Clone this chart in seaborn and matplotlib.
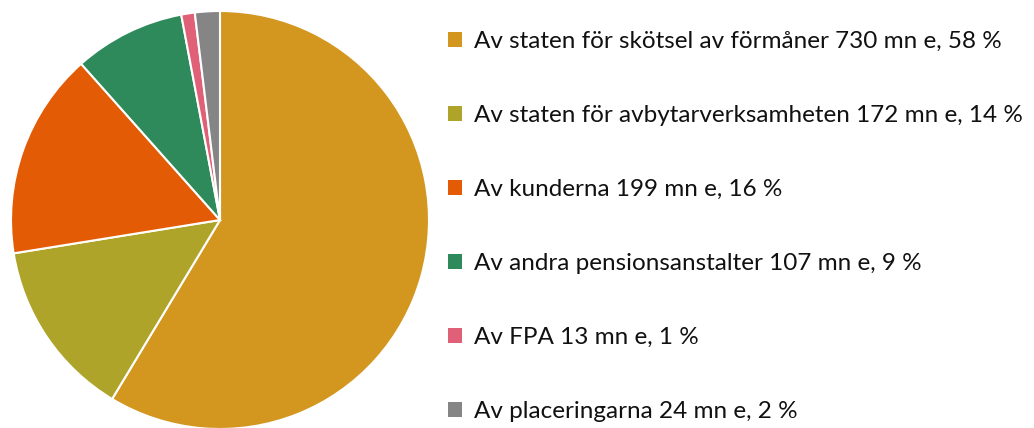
import numpy as np
import pandas as pd
import matplotlib.pyplot as plt
import seaborn as sns
from matplotlib.patches import Patch

labels = ["Av staten för skötsel av förmåner 730 mn e, 58 %",
          "Av staten för avbytarverksamheten 172 mn e, 14 %",
          "Av kunderna 199 mn e, 16 %",
          "Av andra pensionsanstalter 107 mn e, 9 %",
          "Av FPA 13 mn e, 1 %",
          "Av placeringarna 24 mn e, 2 %"]
values = [730, 172, 199, 107, 13, 24]
colors = ["#D3961E", "#AFA42A", "#E35B04", "#2E8A5A", "#E06077", "#858585"]

sns.set_style("white")
plt.rcParams['font.family'] = ['Lato', 'DejaVu Sans']

fig = plt.figure(figsize=(10.34, 4.28), dpi=100)
ax = fig.add_axes([11 / 1034, -1 / 428, 418 / 1034, 418 / 428])
ax.pie(values, colors=colors, startangle=90, counterclock=False,
       wedgeprops=dict(edgecolor="white", linewidth=1.5))
ax.set_xlim(-1, 1)
ax.set_ylim(-1, 1)
ax.set_aspect("equal")
ax.axis("off")

handles = [Patch(facecolor=c, edgecolor="none") for c in colors]
leg = fig.legend(handles, labels, loc="upper left", bbox_to_anchor=(436 / 1034, 1 - 19 / 428),
                 frameon=False, fontsize=17.5, labelspacing=2.18, handlelength=0.55,
                 handleheight=0.55, handletextpad=0.5, borderpad=0)
for t in leg.get_texts():
    t.set_color("#111111")

plt.savefig("out.png", dpi=100)
